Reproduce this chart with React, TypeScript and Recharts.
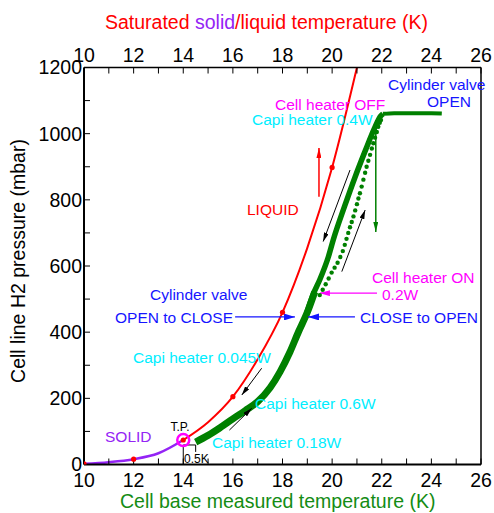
import React from 'react';
import { ComposedChart, Line, Scatter, XAxis, YAxis, ReferenceLine, ReferenceDot } from 'recharts';

const FONT = '"Liberation Sans", Arial, Helvetica, sans-serif';
const RED = '#ff0000';
const GREEN = '#008000';
const BLUE = '#1515ff';
const MAGENTA = '#ff00ff';
const CYAN = '#00eeff';
const PURPLE = '#9424f5';

const tempTicks = [10, 11, 12, 13, 14, 15, 16, 17, 18, 19, 20, 21, 22, 23, 24, 25, 26];
const pressureTicks = [0, 100, 200, 300, 400, 500, 600, 700, 800, 900, 1000, 1100, 1200];

// saturated vapour pressure (top axis)
const liquidT = [14, 15, 16, 17, 18, 19, 20, 21];
const liquidP = [74, 128, 205, 318, 460, 655, 898, 1200];
const solidT = [10, 11, 12, 13, 14];
const solidP = [2, 7, 16, 34, 74];
const markT = [10, 12, 14, 16, 18, 20];
const markP = [2, 16, 74, 205, 460, 898];

// measured cell base temperature (bottom axis)
const bandT = [14.5, 15.0, 15.5, 16.0, 16.5, 17.0, 17.5, 17.9, 18.3, 18.65, 19.0, 19.3];
const bandP = [68, 88, 112, 138, 163, 190, 232, 280, 340, 402, 460, 522];
const riseT = [18.97, 19.24, 19.51, 19.85, 20.05, 20.5, 20.93, 21.35, 21.7, 21.93, 22.05];
const riseP = [457, 515, 560, 628, 680, 780, 870, 951, 1015, 1051, 1060];
const flatT = [22.05, 22.5, 23.0, 23.5, 24.0, 24.42];
const flatP = [1060, 1062, 1062, 1062, 1062, 1061];
const dotT = [19.5, 19.62, 19.74, 19.86, 19.98, 20.1, 20.22, 20.33, 20.43, 20.51, 20.58, 20.65, 20.72, 20.79, 20.86, 20.93,
  21.0, 21.06, 21.12, 21.19, 21.26, 21.33, 21.39, 21.46, 21.53, 21.6, 21.66, 21.73, 21.8, 21.86, 21.92, 21.97];
const dotP = [512, 528, 545, 562, 580, 595, 610, 627, 645, 664, 682, 700, 717, 733, 750, 768,
  787, 804, 820, 840, 861, 882, 900, 918, 936, 955, 971, 988, 1005, 1021, 1033, 1041];

const pts = (t: number[], p: number[]) => t.map((v, i) => ({ t: v, p: p[i] }));

// annotation arrows, in data units [t1, p1, t2, p2]
const arrows: { seg: number[]; c: string; w: number; m: string }[] = [
  { seg: [16.09, 446, 18.5, 446], c: BLUE, w: 1.2, m: 'ah-blue' },
  { seg: [20.92, 446, 19.03, 446], c: BLUE, w: 1.2, m: 'ah-blue' },
  { seg: [21.81, 518, 19.51, 518], c: MAGENTA, w: 1.2, m: 'ah-magenta' },
  { seg: [19.47, 809, 19.47, 957], c: RED, w: 1.5, m: 'ah-red' },
  { seg: [21.76, 1041, 21.76, 703], c: GREEN, w: 1.5, m: 'ah-green' },
  { seg: [20.72, 890, 19.64, 674], c: '#000', w: 1, m: 'ah-black' },
  { seg: [20.39, 583, 21.33, 769], c: '#000', w: 1, m: 'ah-black' },
  { seg: [17.16, 291, 16.36, 210], c: '#000', w: 1, m: 'ah-black' },
  { seg: [15.86, 104, 16.76, 170], c: '#000', w: 1, m: 'ah-black' },
];

const bracket = [
  [14, 0, 14, 59],
  [14, 59, 14.5, 59],
  [14.5, 59, 14.5, 38],
];

const notes = [
  { text: 'Cylinder valve', x: 388, y: 89.5, c: BLUE },
  { text: 'OPEN', x: 427, y: 106.5, c: BLUE },
  { text: 'Cell heater OFF', x: 275, y: 109.5, c: MAGENTA },
  { text: 'Capi heater 0.4W', x: 252, y: 124.5, c: CYAN },
  { text: 'LIQUID', x: 247, y: 214.5, c: RED },
  { text: 'Cell heater ON', x: 372, y: 282.5, c: MAGENTA },
  { text: '0.2W', x: 382, y: 299.5, c: MAGENTA },
  { text: 'CLOSE to OPEN', x: 360, y: 323, c: BLUE },
  { text: 'Cylinder valve', x: 150, y: 299.5, c: BLUE },
  { text: 'OPEN to CLOSE', x: 115, y: 323, c: BLUE },
  { text: 'Capi heater 0.045W', x: 133, y: 363, c: CYAN },
  { text: 'Capi heater 0.6W', x: 255, y: 408.5, c: CYAN },
  { text: 'Capi heater 0.18W', x: 212, y: 448, c: CYAN },
  { text: 'SOLID', x: 105, y: 442, c: PURPLE },
];

const tickStyle = { fontSize: 19.5, fill: '#000', fontFamily: FONT };
const evenOnly = (v: number) => (v % 2 === 0 ? String(v) : '');
const every200 = (v: number) => (v % 200 === 0 ? String(v) : '');

const marker = (id: string, color: string, len: number, wid: number) => (
  <marker key={id} id={id} viewBox="0 0 10 10" refX="10" refY="5" markerWidth={len} markerHeight={wid}
    markerUnits="userSpaceOnUse" orient="auto" preserveAspectRatio="none">
    <path d="M0,0 L10,5 L0,10 z" fill={color} />
  </marker>
);

export default function App() {
  return (
    <div style={{ position: 'absolute', left: 0, top: 0, width: 494, height: 513, background: '#fff' }}>
      <ComposedChart width={494} height={513} margin={{ top: 0, right: 0, bottom: 0, left: 0 }}>
        <XAxis xAxisId="b" orientation="bottom" type="number" dataKey="t" domain={[10, 26]} allowDataOverflow
          ticks={tempTicks} interval={0} tickFormatter={evenOnly} height={48.5} tickSize={-6} tickMargin={15}
          tick={tickStyle} axisLine={{ stroke: '#000', strokeWidth: 2 }} tickLine={{ stroke: '#000' }} />
        <XAxis xAxisId="t" orientation="top" type="number" dataKey="t" domain={[10, 26]} allowDataOverflow
          ticks={tempTicks} interval={0} tickFormatter={evenOnly} height={67.5} tickSize={-6} tickMargin={12}
          tick={tickStyle} axisLine={{ stroke: '#000', strokeWidth: 1.5 }} tickLine={{ stroke: '#000' }} />
        <YAxis yAxisId="l" orientation="left" type="number" dataKey="p" domain={[0, 1200]} allowDataOverflow
          ticks={pressureTicks} interval={0} tickFormatter={every200} width={84} tickSize={-6} tickMargin={8}
          tick={tickStyle} axisLine={{ stroke: '#000', strokeWidth: 2 }} tickLine={{ stroke: '#000' }} />
        <YAxis yAxisId="r" orientation="right" type="number" dataKey="p" domain={[0, 1200]} allowDataOverflow
          ticks={pressureTicks} interval={0} tick={false} width={13} tickSize={-6}
          axisLine={{ stroke: '#000', strokeWidth: 1.5 }} tickLine={{ stroke: '#000' }} />

        <Line xAxisId="b" yAxisId="l" data={pts(bandT, bandP)} dataKey="p" type="monotone" stroke={GREEN}
          strokeWidth={7} dot={false} isAnimationActive={false} />
        <Line xAxisId="b" yAxisId="l" data={pts(riseT, riseP)} dataKey="p" type="monotone" stroke={GREEN}
          strokeWidth={5.5} dot={false} isAnimationActive={false} />
        <Line xAxisId="b" yAxisId="l" data={pts(flatT, flatP)} dataKey="p" type="monotone" stroke={GREEN}
          strokeWidth={4} dot={false} isAnimationActive={false} />
        <Scatter xAxisId="b" yAxisId="l" data={pts(dotT, dotP)} dataKey="p" isAnimationActive={false}
          shape={(s: any) => <circle cx={s.cx} cy={s.cy} r={2.2} fill={GREEN} />} />

        <Line xAxisId="t" yAxisId="l" data={pts(solidT, solidP)} dataKey="p" type="monotone" stroke={PURPLE}
          strokeWidth={2.5} dot={false} isAnimationActive={false} />
        <Line xAxisId="t" yAxisId="l" data={pts(liquidT, liquidP)} dataKey="p" type="monotone" stroke={RED}
          strokeWidth={2} dot={false} isAnimationActive={false} />
        <Scatter xAxisId="t" yAxisId="l" data={pts(markT, markP)} dataKey="p" isAnimationActive={false}
          shape={(s: any) => <circle cx={s.cx} cy={s.cy} r={2.6} fill={RED} />} />

        <ReferenceDot xAxisId="t" yAxisId="l" x={14} y={74} r={6} fill="none" stroke={MAGENTA} strokeWidth={2.5} />

        {bracket.map((s, i) => (
          <ReferenceLine key={'b' + i} xAxisId="b" yAxisId="l" ifOverflow="visible"
            segment={[{ x: s[0], y: s[1] }, { x: s[2], y: s[3] }]} stroke="#000" strokeWidth={1} />
        ))}
        {arrows.map((a, i) => (
          <ReferenceLine key={'a' + i} xAxisId="b" yAxisId="l" ifOverflow="visible"
            segment={[{ x: a.seg[0], y: a.seg[1] }, { x: a.seg[2], y: a.seg[3] }]}
            stroke={a.c} strokeWidth={a.w} markerEnd={`url(#${a.m})`} />
        ))}
      </ComposedChart>

      <svg width={494} height={513} style={{ position: 'absolute', left: 0, top: 0, pointerEvents: 'none' }}
        fontFamily={FONT}>
        <defs>
          {marker('ah-blue', BLUE, 11, 7)}
          {marker('ah-magenta', MAGENTA, 10, 6)}
          {marker('ah-red', RED, 10, 5)}
          {marker('ah-green', GREEN, 10, 5)}
          {marker('ah-black', '#000', 9, 5)}
        </defs>
        <text x={105} y={29.3} fontSize={19.5} fill={RED}>
          Saturated <tspan fill={PURPLE}>solid</tspan>/liquid temperature (K)
        </text>
        <text x={120} y={508} fontSize={19.5} fill="#148c14">Cell base measured temperature (K)</text>
        <text transform="translate(25,261) rotate(-90)" textAnchor="middle" fontSize={19.5} fill="#000">
          Cell line H2 pressure (mbar)
        </text>
        {notes.map((n, i) => (
          <text key={i} x={n.x} y={n.y} fontSize={15.5} fill={n.c}>{n.text}</text>
        ))}
        <text x={180} y={431} fontSize={12} textAnchor="middle" fill="#000">T.P.</text>
        <text x={184} y={463} fontSize={12} fill="#000">0.5K</text>
      </svg>
    </div>
  );
}
